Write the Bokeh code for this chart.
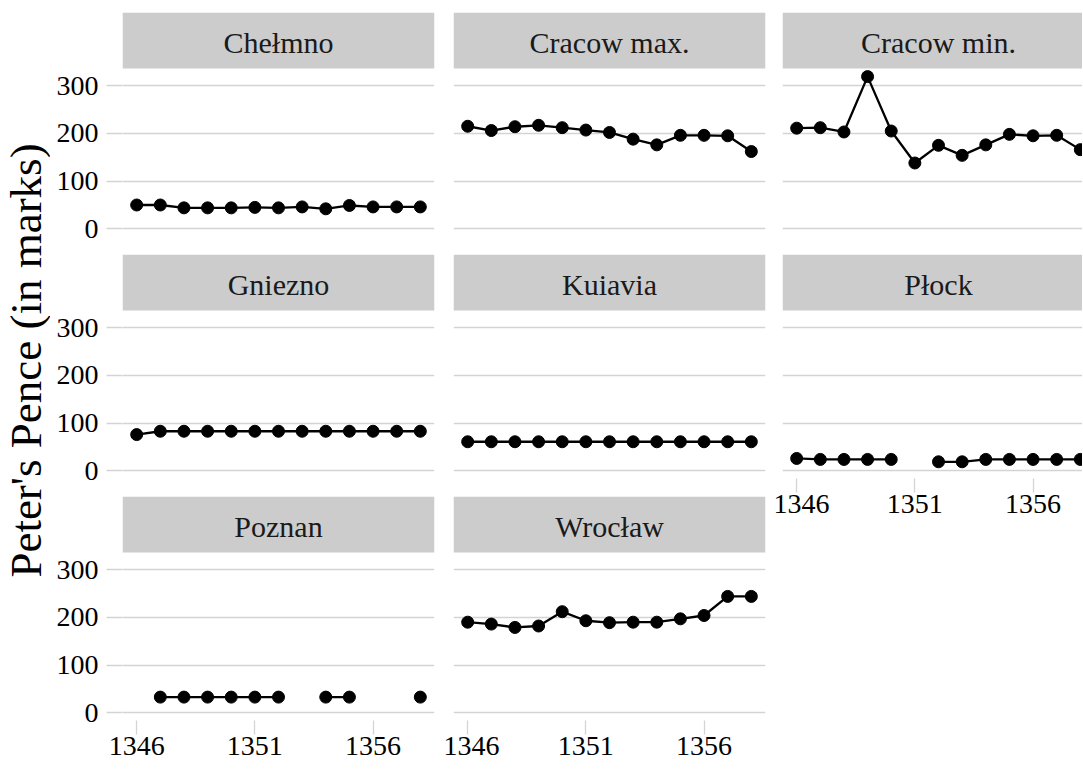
import math
from bokeh.plotting import figure
from bokeh.layouts import row, column
from bokeh.models import Range1d, FixedTicker, Label, ColumnDataSource
from bokeh.embed import file_html
from bokeh.resources import INLINE

nan = float("nan")

# ---------------- data ----------------
years = [1346, 1347, 1348, 1349, 1350, 1351, 1352, 1353, 1354, 1355, 1356, 1357, 1358]
panel_names = ["Chełmno", "Cracow max.", "Cracow min.", "Gniezno", "Kuiavia",
               "Płock", "Poznan", "Wrocław"]
chelmno = [50, 50, 44, 44, 44, 45, 44, 46, 42, 49, 46, 46, 46]
cracow_max = [215, 206, 214, 217, 212, 207, 202, 188, 176, 196, 196, 195, 162]
cracow_min = [211, 212, 203, 319, 205, 138, 175, 154, 176, 198, 195, 196, 166]
gniezno = [76, 83, 83, 83, 83, 83, 83, 83, 83, 83, 83, 83, 83]
kuiavia = [61, 61, 61, 61, 61, 61, 61, 61, 61, 61, 61, 61, 61]
plock = [26, 24, 24, 24, 24, nan, 19, 19, 24, 24, 24, 24, 24]
poznan = [nan, 33, 33, 33, 33, 33, 33, nan, 33, 33, nan, nan, 33]
wroclaw = [190, 186, 179, 182, 212, 193, 189, 190, 190, 197, 204, 244, 244]
x_ticks = [1346, 1351, 1356]
y_ticks = [0, 100, 200, 300]
y_title = "Peter's Pence (in marks)"

series = [chelmno, cracow_max, cracow_min, gniezno, kuiavia, plock, poznan, wroclaw]

# ---------------- geometry ----------------
FONT = "Liberation Serif"
X0, X1 = 1345.4, 1358.6
Y0, Y1 = -16, 336
FRAME_W = 312
PANEL_H = 168
STRIP_H = 56
PXX = FRAME_W / (X1 - X0)
PXY = PANEL_H / (Y1 - Y0)
YTOP = Y1 + STRIP_H / PXY
GRID = "#d4d4d4"
TITLE_W = 50
TOTAL_H = 768


def make_panel(idx, col, rowi, bottom_axis):
    name = panel_names[idx]
    vals = series[idx]
    if col == 0:
        bl, br, fw = 122 - TITLE_W, 9, FRAME_W
    elif col == 1:
        bl, br, fw = 10, 8, FRAME_W
    else:
        bl, br, fw = 9, 0, 300
    bt = 12 if rowi == 0 else 9
    bb = 48 if bottom_axis else 9
    xend = X0 + fw / PXX
    p = figure(width=bl + fw + br, height=bt + PANEL_H + STRIP_H + bb,
               x_range=Range1d(X0, xend), y_range=Range1d(Y0, YTOP),
               output_backend="svg", toolbar_location=None,
               min_border_left=bl, min_border_right=br,
               min_border_top=bt, min_border_bottom=bb,
               x_axis_location="below" if bottom_axis else None,
               y_axis_location="left" if col == 0 else None)
    p.outline_line_color = None
    p.background_fill_color = "white"
    p.border_fill_color = "white"
    p.xgrid.visible = False
    p.ygrid.ticker = FixedTicker(ticks=y_ticks)
    p.ygrid.grid_line_color = GRID
    p.ygrid.grid_line_width = 1.3

    if col == 0:
        ax = p.yaxis[0]
        ax.ticker = FixedTicker(ticks=y_ticks)
        ax.axis_line_color = None
        ax.major_tick_in = 0
        ax.major_tick_out = 16
        ax.major_tick_line_color = GRID
        ax.major_tick_line_width = 1.3
        ax.minor_tick_line_color = None
        ax.major_label_standoff = 8
        ax.major_label_text_font = FONT
        ax.major_label_text_font_size = "28px"
        ax.major_label_text_color = "black"
    if bottom_axis:
        ax = p.xaxis[0]
        ax.ticker = FixedTicker(ticks=x_ticks)
        ax.axis_line_color = None
        ax.major_tick_in = 0
        ax.major_tick_out = 14
        ax.major_tick_line_color = GRID
        ax.major_tick_line_width = 1.3
        ax.minor_tick_line_color = None
        ax.major_label_standoff = 2
        ax.major_label_text_font = FONT
        ax.major_label_text_font_size = "28px"
        ax.major_label_text_color = "black"

    # strip
    p.quad(left=X0, right=xend, bottom=Y1, top=YTOP,
           fill_color="#cccccc", line_color=None)
    p.add_layout(Label(x=(X0 + X1) / 2, y=(Y1 + YTOP) / 2 - 2 / PXY, text=name,
                       text_align="center", text_baseline="middle",
                       text_font=FONT, text_font_size="30px",
                       text_color="#1a1a1a"))

    src = ColumnDataSource(dict(x=years, y=vals))
    p.line("x", "y", source=src, line_width=2.3, line_color="black")
    p.scatter("x", "y", source=src, size=12, fill_color="black",
              line_color="black")
    return p


# y-axis title in its own narrow figure
pt = figure(width=TITLE_W, height=TOTAL_H, x_range=Range1d(0, TITLE_W),
            y_range=Range1d(0, TOTAL_H), min_border=0,
            x_axis_location=None, y_axis_location=None,
            output_backend="svg", toolbar_location=None)
pt.grid.visible = False
pt.outline_line_color = None
pt.add_layout(Label(x=25, y=TOTAL_H - 360, text=y_title, angle=math.pi / 2,
                    text_align="center", text_baseline="middle",
                    text_font=FONT, text_font_size="45px", text_color="black"))

p1 = make_panel(0, 0, 0, False)
p2 = make_panel(1, 1, 0, False)
p3 = make_panel(2, 2, 0, False)
p4 = make_panel(3, 0, 1, False)
p5 = make_panel(4, 1, 1, False)
p6 = make_panel(5, 2, 1, True)
p7 = make_panel(6, 0, 2, True)
p8 = make_panel(7, 1, 2, True)

layout = row(pt, column(p1, p4, p7), column(p2, p5, p8), column(p3, p6))

open("out.html", "w").write(file_html(layout, INLINE))
